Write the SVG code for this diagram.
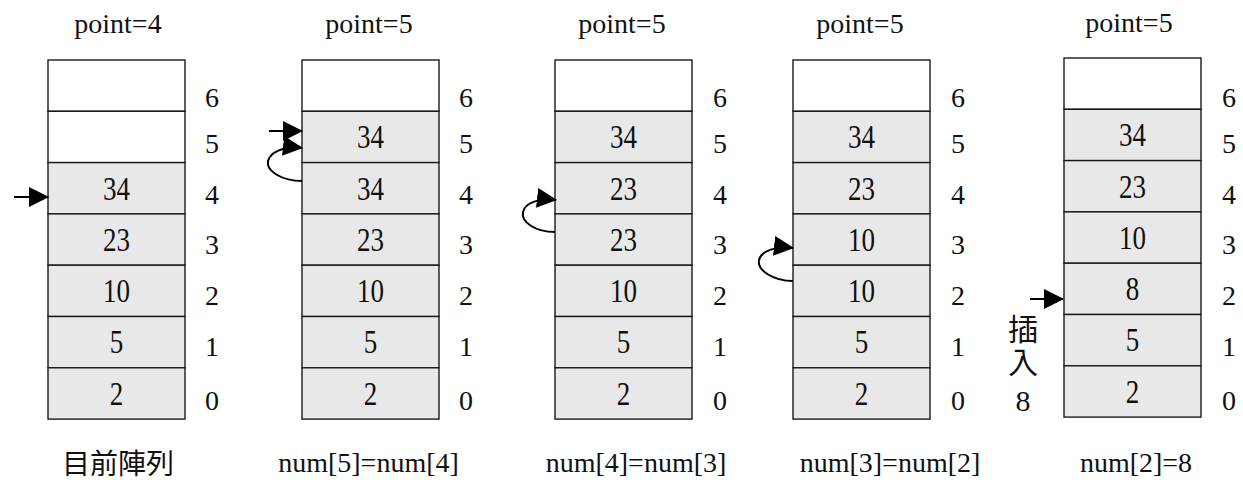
<svg xmlns="http://www.w3.org/2000/svg" width="1243" height="480" viewBox="0 0 1243 480" font-family="Liberation Serif, Noto Sans CJK TC, serif">
<style>
.bg{fill:#ffffff}
.c{fill:#e8e8e8;stroke:#1a1a1a;stroke-width:1.4}
.e{fill:#ffffff;stroke:#1a1a1a;stroke-width:1.4}
text{fill:#111;text-anchor:middle}
.t{font-size:28px}
.v{font-size:33px}
.i{font-size:28px}
.cj{font-size:28px}
.a{fill:none;stroke:#000;stroke-width:2;marker-end:url(#ah)}
</style>
<defs>
<marker id="ah" markerUnits="userSpaceOnUse" markerWidth="22" markerHeight="22" refX="19" refY="10" orient="auto">
<path d="M0,0 L20,10 L0,20 z" fill="#000"/>
</marker>
</defs>
<rect class="bg" x="0" y="0" width="1243" height="480"/>

<g id="col1">
<text class="t" x="118" y="33">point=4</text>
<rect class="e" x="48" y="60" width="137" height="51.3"/>
<rect class="e" x="48" y="111.3" width="137" height="51.3"/>
<rect class="c" x="48" y="162.6" width="137" height="51.3"/>
<rect class="c" x="48" y="213.9" width="137" height="51.3"/>
<rect class="c" x="48" y="265.2" width="137" height="51.3"/>
<rect class="c" x="48" y="316.5" width="137" height="51.3"/>
<rect class="c" x="48" y="367.8" width="137" height="51.3"/>
<text class="v" transform="translate(116.5,199.5) scale(0.82,1)">34</text>
<text class="v" transform="translate(116.5,250.8) scale(0.82,1)">23</text>
<text class="v" transform="translate(116.5,302.1) scale(0.82,1)">10</text>
<text class="v" transform="translate(116.5,353.4) scale(0.82,1)">5</text>
<text class="v" transform="translate(116.5,404.7) scale(0.82,1)">2</text>
<text class="i" x="212" y="106.5">6</text>
<text class="i" x="212" y="153">5</text>
<text class="i" x="212" y="203.5">4</text>
<text class="i" x="212" y="254">3</text>
<text class="i" x="212" y="305">2</text>
<text class="i" x="212" y="356">1</text>
<text class="i" x="212" y="410">0</text>
<text class="cj" x="118" y="474">目前陣列</text>
</g>

<g id="col2">
<text class="t" x="369" y="33">point=5</text>
<rect class="e" x="302" y="60" width="137" height="51.3"/>
<rect class="c" x="302" y="111.3" width="137" height="51.3"/>
<rect class="c" x="302" y="162.6" width="137" height="51.3"/>
<rect class="c" x="302" y="213.9" width="137" height="51.3"/>
<rect class="c" x="302" y="265.2" width="137" height="51.3"/>
<rect class="c" x="302" y="316.5" width="137" height="51.3"/>
<rect class="c" x="302" y="367.8" width="137" height="51.3"/>
<text class="v" transform="translate(370.5,148.2) scale(0.82,1)">34</text>
<text class="v" transform="translate(370.5,199.5) scale(0.82,1)">34</text>
<text class="v" transform="translate(370.5,250.8) scale(0.82,1)">23</text>
<text class="v" transform="translate(370.5,302.1) scale(0.82,1)">10</text>
<text class="v" transform="translate(370.5,353.4) scale(0.82,1)">5</text>
<text class="v" transform="translate(370.5,404.7) scale(0.82,1)">2</text>
<text class="i" x="466" y="106.5">6</text>
<text class="i" x="466" y="153">5</text>
<text class="i" x="466" y="203.5">4</text>
<text class="i" x="466" y="254">3</text>
<text class="i" x="466" y="305">2</text>
<text class="i" x="466" y="356">1</text>
<text class="i" x="466" y="410">0</text>
<text class="t" x="368.5" y="472">num[5]=num[4]</text>
</g>

<g id="col3">
<text class="t" x="622" y="33">point=5</text>
<rect class="e" x="555" y="60" width="137" height="51.3"/>
<rect class="c" x="555" y="111.3" width="137" height="51.3"/>
<rect class="c" x="555" y="162.6" width="137" height="51.3"/>
<rect class="c" x="555" y="213.9" width="137" height="51.3"/>
<rect class="c" x="555" y="265.2" width="137" height="51.3"/>
<rect class="c" x="555" y="316.5" width="137" height="51.3"/>
<rect class="c" x="555" y="367.8" width="137" height="51.3"/>
<text class="v" transform="translate(623.5,148.2) scale(0.82,1)">34</text>
<text class="v" transform="translate(623.5,199.5) scale(0.82,1)">23</text>
<text class="v" transform="translate(623.5,250.8) scale(0.82,1)">23</text>
<text class="v" transform="translate(623.5,302.1) scale(0.82,1)">10</text>
<text class="v" transform="translate(623.5,353.4) scale(0.82,1)">5</text>
<text class="v" transform="translate(623.5,404.7) scale(0.82,1)">2</text>
<text class="i" x="720" y="106.5">6</text>
<text class="i" x="720" y="153">5</text>
<text class="i" x="720" y="203.5">4</text>
<text class="i" x="720" y="254">3</text>
<text class="i" x="720" y="305">2</text>
<text class="i" x="720" y="356">1</text>
<text class="i" x="720" y="410">0</text>
<text class="t" x="636" y="472">num[4]=num[3]</text>
</g>

<g id="col4">
<text class="t" x="860" y="33">point=5</text>
<rect class="e" x="793" y="60" width="137" height="51.3"/>
<rect class="c" x="793" y="111.3" width="137" height="51.3"/>
<rect class="c" x="793" y="162.6" width="137" height="51.3"/>
<rect class="c" x="793" y="213.9" width="137" height="51.3"/>
<rect class="c" x="793" y="265.2" width="137" height="51.3"/>
<rect class="c" x="793" y="316.5" width="137" height="51.3"/>
<rect class="c" x="793" y="367.8" width="137" height="51.3"/>
<text class="v" transform="translate(861.5,148.2) scale(0.82,1)">34</text>
<text class="v" transform="translate(861.5,199.5) scale(0.82,1)">23</text>
<text class="v" transform="translate(861.5,250.8) scale(0.82,1)">10</text>
<text class="v" transform="translate(861.5,302.1) scale(0.82,1)">10</text>
<text class="v" transform="translate(861.5,353.4) scale(0.82,1)">5</text>
<text class="v" transform="translate(861.5,404.7) scale(0.82,1)">2</text>
<text class="i" x="958" y="106.5">6</text>
<text class="i" x="958" y="153">5</text>
<text class="i" x="958" y="203.5">4</text>
<text class="i" x="958" y="254">3</text>
<text class="i" x="958" y="305">2</text>
<text class="i" x="958" y="356">1</text>
<text class="i" x="958" y="410">0</text>
<text class="t" x="890" y="472">num[3]=num[2]</text>
</g>

<g id="col5">
<text class="t" x="1129" y="32">point=5</text>
<rect class="e" x="1064" y="58" width="137" height="51.3"/>
<rect class="c" x="1064" y="109.3" width="137" height="51.3"/>
<rect class="c" x="1064" y="160.6" width="137" height="51.3"/>
<rect class="c" x="1064" y="211.9" width="137" height="51.3"/>
<rect class="c" x="1064" y="263.2" width="137" height="51.3"/>
<rect class="c" x="1064" y="314.5" width="137" height="51.3"/>
<rect class="c" x="1064" y="365.8" width="137" height="51.3"/>
<text class="v" transform="translate(1132.5,146.2) scale(0.82,1)">34</text>
<text class="v" transform="translate(1132.5,197.5) scale(0.82,1)">23</text>
<text class="v" transform="translate(1132.5,248.8) scale(0.82,1)">10</text>
<text class="v" transform="translate(1132.5,300.1) scale(0.82,1)">8</text>
<text class="v" transform="translate(1132.5,351.4) scale(0.82,1)">5</text>
<text class="v" transform="translate(1132.5,402.7) scale(0.82,1)">2</text>
<text class="i" x="1229" y="106.5">6</text>
<text class="i" x="1229" y="153">5</text>
<text class="i" x="1229" y="203.5">4</text>
<text class="i" x="1229" y="254">3</text>
<text class="i" x="1229" y="305">2</text>
<text class="i" x="1229" y="356">1</text>
<text class="i" x="1229" y="410">0</text>
<text class="t" x="1136" y="472">num[2]=8</text>
</g>

<g id="insert-label">
<text class="cj" x="1023" y="340" style="font-size:30px">插</text>
<text class="cj" x="1023" y="373" style="font-size:30px">入</text>
<text class="i" x="1023" y="411" style="font-size:30px">8</text>
</g>

<g id="connectors">
<path class="a" d="M14,197 L48,197"/>
<path class="a" d="M269,131 L302,131"/>
<path class="a" d="M302,181 C282,181 266,171 268,161 C270,152 284,146 302,148"/>
<path class="a" d="M555,232 C535,232 521,222 523,212 C525,203 538,198 556,200"/>
<path class="a" d="M793,281 C773,281 757,270 759,260 C761,251 775,246 793,248"/>
<path class="a" d="M1030,299 L1063,299"/>
</g>
</svg>
